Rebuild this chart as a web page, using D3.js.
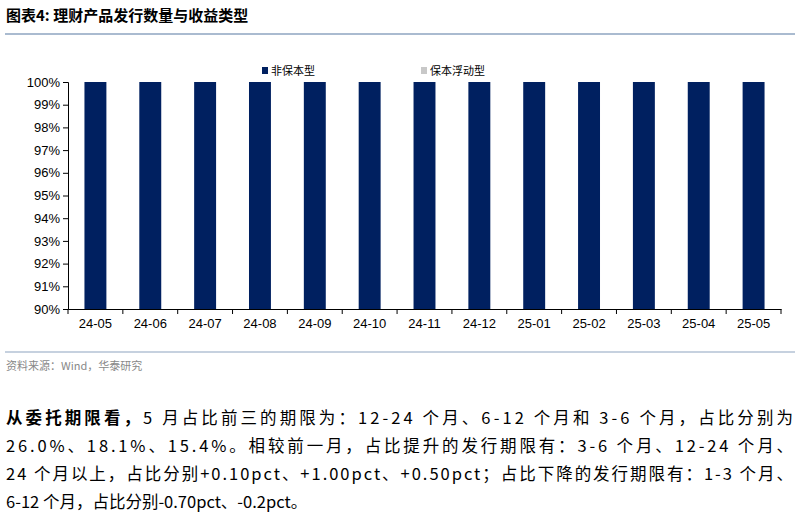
<!DOCTYPE html>
<html><head><meta charset="utf-8">
<script src="https://cdn.jsdelivr.net/npm/d3@7"></script>
<style>body{margin:0;background:#fff}</style>
</head><body>
<svg width="800" height="518"></svg>
<script>
var months = ["24-05","24-06","24-07","24-08","24-09","24-10","24-11","24-12","25-01","25-02","25-03","25-04","25-05"];
var nonGuaranteed = [1,1,1,1,1,1,1,1,1,1,1,1,1];
var guaranteedFloat = [0,0,0,0,0,0,0,0,0,0,0,0,0];
var yTicks = [0.90,0.91,0.92,0.93,0.94,0.95,0.96,0.97,0.98,0.99,1.00];

var svg = d3.select("svg");
var cjk = "'Noto Sans CJK SC', sans-serif";
var margin = {top: 82, left: 68, right: 781, bottom: 309};

svg.append("text").attr("x", 6).attr("y", 21).style("font-family", cjk)
    .style("font-size", "15px").style("font-weight", "bold").text("图表4:  理财产品发行数量与收益类型");
svg.append("line").attr("x1", 5).attr("x2", 795).attr("y1", 34).attr("y2", 34)
    .style("stroke", "#8ea4c0").style("stroke-width", 1.5);

var x = d3.scaleBand().domain(months).range([margin.left, margin.right]).paddingInner(0.6).paddingOuter(0.3);
var y = d3.scaleLinear().domain([0.9, 1]).range([margin.bottom, margin.top]);

svg.selectAll("rect.ng").data(months).enter().append("rect")
    .attr("x", function(d) { return x(d); })
    .attr("width", x.bandwidth())
    .attr("y", function(d, i) { return y(nonGuaranteed[i]); })
    .attr("height", function(d, i) { return y(0.9) - y(nonGuaranteed[i]); })
    .style("fill", "#002060");
svg.selectAll("rect.gf").data(months).enter().append("rect")
    .attr("x", function(d) { return x(d); })
    .attr("width", x.bandwidth())
    .attr("y", function(d, i) { return y(1); })
    .attr("height", function(d, i) { return y(1 - guaranteedFloat[i]) - y(1); })
    .style("fill", "#c8c8c8");

var xg = svg.append("g").attr("transform", "translate(0," + margin.bottom + ")")
    .call(d3.axisBottom(x).tickSizeOuter(0).tickSize(0));
xg.selectAll(".sep").data(d3.range(months.length + 1)).enter().append("line")
    .attr("x1", function(i) { return margin.left + i * (margin.right - margin.left) / months.length; })
    .attr("x2", function(i) { return margin.left + i * (margin.right - margin.left) / months.length; })
    .attr("y1", 0).attr("y2", 5).style("stroke", "#000");
xg.selectAll("text").attr("dy", "1.2em").style("font-family", "Liberation Sans, Arial").style("font-size", "13px");

var yg = svg.append("g").attr("transform", "translate(" + margin.left + ",0)")
    .call(d3.axisLeft(y).tickValues(yTicks).tickFormat(d3.format(".0%")).tickSizeOuter(0).tickSize(5));
yg.selectAll("text").style("font-family", "Liberation Sans, Arial").style("font-size", "13px").attr("x", -8);
svg.selectAll(".domain").style("stroke", "#000");

var legend = [["非保本型", "#002060", 262], ["保本浮动型", "#c8c8c8", 421]];
legend.forEach(function(l) {
  svg.append("rect").attr("x", l[2]).attr("y", 67).attr("width", 6).attr("height", 7).style("fill", l[1]);
  svg.append("text").attr("x", l[2] + 9).attr("y", 75).style("font-family", cjk).style("font-size", "11px").text(l[0]);
});

svg.append("line").attr("x1", 5).attr("x2", 795).attr("y1", 352).attr("y2", 352)
    .style("stroke", "#8ea4c0").style("stroke-width", 1.2);
svg.append("text").attr("x", 6).attr("y", 370).style("font-family", cjk).style("font-size", "11px")
    .style("fill", "#888").text("资料来源：Wind，华泰研究");

var para = [
  [{t: "从委托期限看，", b: true}, {t: "5 月占比前三的期限为：12-24 个月、6-12 个月和 3-6 个月，占比分别为"}],
  [{t: "26.0%、18.1%、15.4%。相较前一月，占比提升的发行期限有：3-6 个月、12-24 个月、"}],
  [{t: "24 个月以上，占比分别+0.10pct、+1.00pct、+0.50pct；占比下降的发行期限有：1-3 个月、"}],
  [{t: "6-12 个月，占比分别-0.70pct、-0.2pct。"}]
];
para.forEach(function(line, i) {
  var t = svg.append("text").attr("x", 6).attr("y", 424 + i * 28).style("font-family", cjk).style("font-size", "16.5px");
  if (i < 3) t.attr("textLength", 787).attr("lengthAdjust", "spacing");
  line.forEach(function(s) { t.append("tspan").style("font-weight", s.b ? "bold" : "normal").text(s.t); });
});
</script>
</body></html>
